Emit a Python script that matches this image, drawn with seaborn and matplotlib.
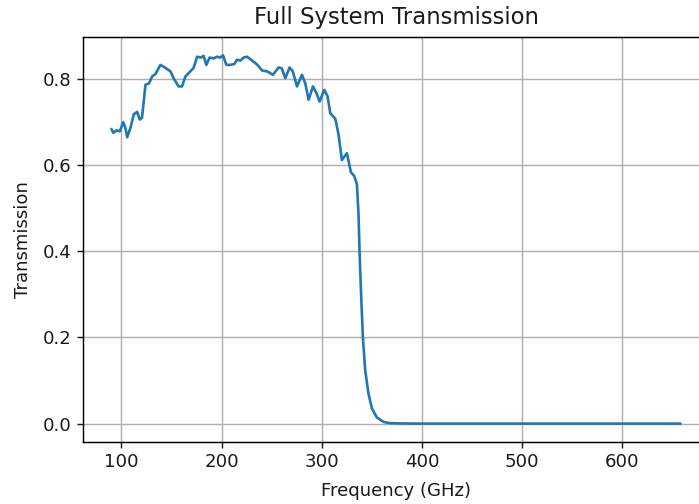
import matplotlib
matplotlib.use("Agg")
import matplotlib.pyplot as plt
import seaborn as sns
import pandas as pd

# Measured transmission of the full optical chain
freq_ghz = [
    90, 92, 95, 98.5, 101.7, 104, 105.7, 109, 112.3, 115.6, 118.3, 120.5,
    124, 127.5, 130.6, 134, 138.9, 143.9, 148.9, 152, 157, 160.5, 163.8,
    168.8, 172, 175.5, 179.5, 182, 184.7, 188, 192, 195.4, 198.7, 201.4,
    204.7, 208.7, 212.7, 215.4, 218.7, 222, 225.4, 230.4, 235.3, 240.3,
    245.3, 251.2, 256.8, 260, 263.5, 267.8, 271, 275.2, 280.2, 283.5,
    286.8, 291.1, 294.5, 297.8, 302.4, 305.7, 308.4, 313.4, 316.7, 320,
    325, 329, 332.3, 335, 336.6, 337.6, 339.3, 341, 343.3, 346.6, 350,
    355, 361.6, 368, 380, 400, 450, 500, 550, 600, 658,
]
transmission = [
    0.684, 0.675, 0.681, 0.679, 0.700, 0.686, 0.665, 0.687, 0.718, 0.724,
    0.706, 0.710, 0.787, 0.790, 0.806, 0.812, 0.833, 0.826, 0.818, 0.802,
    0.783, 0.783, 0.806, 0.818, 0.826, 0.852, 0.850, 0.854, 0.833, 0.850,
    0.848, 0.852, 0.850, 0.855, 0.833, 0.833, 0.835, 0.845, 0.843, 0.850,
    0.852, 0.843, 0.834, 0.820, 0.818, 0.810, 0.827, 0.825, 0.802, 0.827,
    0.818, 0.783, 0.810, 0.790, 0.752, 0.783, 0.768, 0.748, 0.775, 0.760,
    0.721, 0.708, 0.671, 0.612, 0.628, 0.584, 0.575, 0.556, 0.486, 0.401,
    0.293, 0.199, 0.123, 0.069, 0.035, 0.014, 0.004, 0.001, 0.0003, 0.0,
    0.0, 0.0, 0.0, 0.0, 0.0,
]

df = pd.DataFrame({"Frequency (GHz)": freq_ghz, "Transmission": transmission})

sns.set_style("ticks", {
    "axes.grid": True,
    "grid.color": "#b0b0b0",
    "axes.edgecolor": "black",
})
plt.rcParams.update({
    "font.family": ["DejaVu Sans"],
    "xtick.labelsize": 13.1,
    "ytick.labelsize": 13.1,
    "axes.labelsize": 13.1,
    "axes.titlesize": 16.4,
    "grid.linewidth": 1.05,
    "axes.linewidth": 1.05,
    "xtick.major.width": 1.05,
    "ytick.major.width": 1.05,
    "xtick.major.size": 4.6,
    "ytick.major.size": 4.6,
    "text.color": "#1a1a1a",
    "axes.labelcolor": "#1a1a1a",
    "xtick.color": "#1a1a1a",
    "ytick.color": "#1a1a1a",
})

fig = plt.figure(figsize=(6.99, 5.04), dpi=100)
ax = fig.add_axes([0.1187, 0.123, 0.8956, 0.8036])

sns.lineplot(data=df, x="Frequency (GHz)", y="Transmission", ax=ax,
             color="#1f77b4", linewidth=1.9)

ax.set_title("Full System Transmission", pad=9)
ax.set_xlabel("Frequency (GHz)", labelpad=7.5)
ax.set_ylabel("Transmission", labelpad=7.5)
ax.margins(x=0.05, y=0.05)

fig.savefig("out.png", dpi=100)
